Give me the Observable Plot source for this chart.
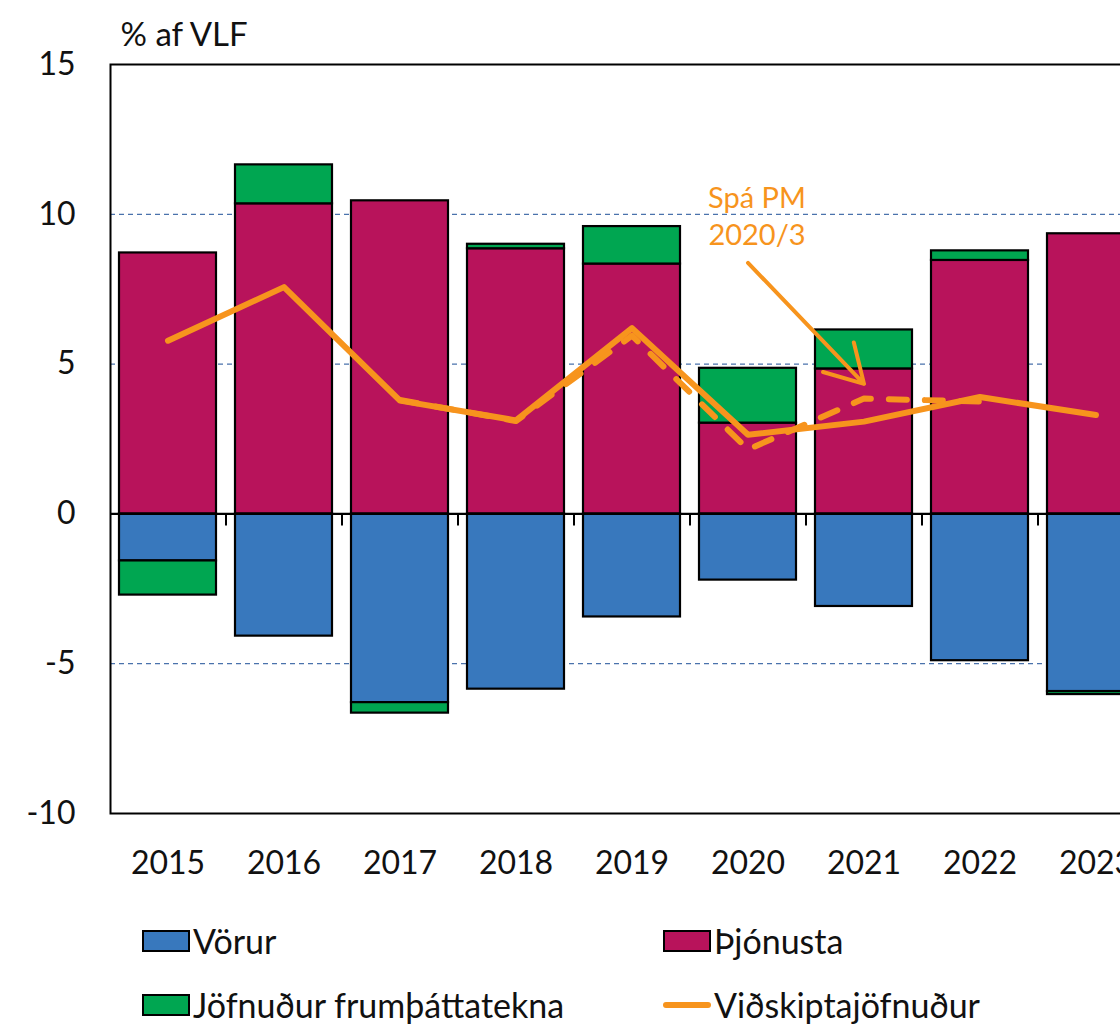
<!DOCTYPE html>
<html>
<head>
<meta charset="utf-8">
<script src="https://cdn.jsdelivr.net/npm/d3@7"></script>
<script src="https://cdn.jsdelivr.net/npm/@observablehq/plot@0.6"></script>
<style>
  html, body { margin: 0; padding: 0; background: white; overflow: hidden; }
  body { position: relative; width: 1120px; height: 1024px; font-family: Lato, "Open Sans", sans-serif; }
  #chart { position: absolute; left: 0; top: 0; }
  .leg { position: absolute; display: flex; align-items: center; gap: 3px; font-size: 34px; line-height: 1; color: #111; white-space: nowrap; }
  .sw { width: 48px; height: 22px; box-sizing: border-box; border: 2px solid #000; }
  .ln { width: 48px; height: 6px; border-radius: 3px; background: #F7941D; }
</style>
</head>
<body>
<div id="chart"></div>
<div class="leg" style="left:142px; top:924px;"><div class="sw" style="background:#3878BD"></div><span>Vörur</span></div>
<div class="leg" style="left:663px; top:924px;"><div class="sw" style="background:#B8135B"></div><span>Þjónusta</span></div>
<div class="leg" style="left:142px; top:988px;"><div class="sw" style="background:#00A651"></div><span>Jöfnuður frumþáttatekna</span></div>
<div class="leg" style="left:663px; top:988px;"><div class="ln"></div><span>Viðskiptajöfnuður</span></div>
<script>
// ---- data ----
const years = ["2015", "2016", "2017", "2018", "2019", "2020", "2021", "2022", "2023"];
const seriesNames = ["Vörur", "Þjónusta", "Jöfnuður frumþáttatekna"];
const seriesColors = ["#3878BD", "#B8135B", "#00A651"];
const vorur = [-1.57, -4.08, -6.30, -5.85, -3.44, -2.21, -3.09, -4.90, -5.93];
const thjonusta = [8.71, 10.35, 10.45, 8.85, 8.34, 3.03, 4.84, 8.46, 9.35];
const jofnudur = [-1.14, 1.30, -0.35, 0.15, 1.25, 1.83, 1.30, 0.32, -0.10];
const vidskiptajofnudur = [5.78, 7.57, 3.78, 3.12, 6.20, 2.64, 3.08, 3.90, 3.30];
const spaYears = ["2017", "2018", "2019", "2020", "2021", "2022"];
const spaPM = [3.80, 3.10, 5.95, 2.15, 3.85, 3.75];
const yTicks = [-10, -5, 0, 5, 10, 15];
const gridValues = [-5, 5, 10];
const yLabel = "% af VLF";
const annotLabel = "Spá PM\n2020/3";
const annotX = "2020";
const annotY = 10.0;
const arrowFrom = {x: "2020", y: 8.38};
const arrowTo = {x: "2021", y: 4.34};

// ---- tables ----
const seriesValues = [vorur, thjonusta, jofnudur];
const rows = [];
seriesNames.forEach((s, si) => {
  years.forEach((yr, i) => rows.push({year: yr, series: s, value: seriesValues[si][i]}));
});
const balance = years.map((yr, i) => ({year: yr, value: vidskiptajofnudur[i]}));
const forecast = spaYears.map((yr, i) => ({year: yr, value: spaPM[i]}));

const orange = "#F7941D";

const svg = Plot.plot({
  width: 1164,
  height: 890,
  marginLeft: 110,
  marginRight: 10,
  marginTop: 64,
  marginBottom: 77,
  style: {fontFamily: "Lato, 'Open Sans', sans-serif", fontSize: "32px", color: "#111", background: "white", maxWidth: "none", overflow: "visible"},
  x: {domain: years, paddingInner: 0.16, paddingOuter: 0.08, label: null},
  y: {domain: [-10, 15], label: null},
  color: {domain: seriesNames, range: seriesColors},
  marks: [
    Plot.ruleY(gridValues, {stroke: "#4A72AC", strokeWidth: 1.2, strokeDasharray: "5,4"}),
    Plot.barY(rows, {x: "year", y: "value", fill: "series", stroke: "#000", strokeWidth: 2.2}),
    Plot.ruleY([0], {stroke: "#000", strokeWidth: 2.2}),
    Plot.ruleX(years, {x: d => d, dx: 58, y1: 0, y2: -0.4, stroke: "#000", strokeWidth: 2}),
    Plot.line(forecast, {x: "year", y: "value", stroke: orange, strokeWidth: 6, strokeDasharray: "18,18", strokeLinecap: "round"}),
    Plot.line(balance, {x: "year", y: "value", stroke: orange, strokeWidth: 6, strokeLinecap: "round", strokeLinejoin: "round"}),
    Plot.frame({stroke: "#000", strokeWidth: 2}),
    Plot.axisY({ticks: yTicks, tickSize: 0, tickPadding: 35, fontSize: 32, label: null, tickFormat: d => String(d)}),
    Plot.axisX({tickSize: 0, tickPadding: 38, fontSize: 32, label: null}),
    Plot.text([yLabel], {frameAnchor: "top-left", dx: 10, dy: -29, fontSize: 33, textAnchor: "start", lineAnchor: "middle"}),
    Plot.text([annotLabel], {x: () => annotX, y: () => annotY, dx: 9, fontSize: 29, fill: orange, lineHeight: 1.3, textAnchor: "middle"}),
    Plot.arrow([{}], {x1: () => arrowFrom.x, y1: () => arrowFrom.y, x2: () => arrowTo.x, y2: () => arrowTo.y, stroke: orange, strokeWidth: 4, headLength: 16})
  ]
});
svg.style.maxWidth = "none";
document.getElementById("chart").appendChild(svg);
</script>
</body>
</html>
